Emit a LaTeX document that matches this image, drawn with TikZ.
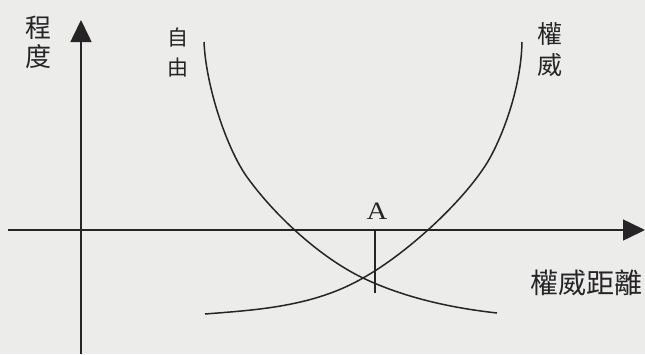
\documentclass[tikz,border=0pt]{standalone}
\usepackage{fontspec}
\usepackage{graphicx}
\newfontfamily\cjk{Noto Sans CJK TC}
\setmainfont{Liberation Serif}
\usetikzlibrary{arrows.meta}
\definecolor{bg}{RGB}{236,236,234}
\definecolor{ink}{RGB}{38,36,38}
\tikzset{
  axis/.style={draw=ink, line width=1.6pt, -{Triangle[length=22pt,width=21pt]}},
  curve/.style={draw=ink, line width=1.5pt},
  lbl/.style={inner sep=0pt, align=center, text=ink}
}
\begin{document}
\begin{tikzpicture}[x=1pt,y=-1pt]
\fill[bg] (0,0) rectangle (645,354);
\useasboundingbox (0,0) rectangle (645,354);
% axes
\coordinate (ybot) at (81,354);
\coordinate (ytop) at (81,20);
\coordinate (xleft) at (8,230);
\coordinate (xright) at (645,230);
\draw[axis] (ybot) -- (ytop);
\draw[axis] (xleft) -- (xright);
% curves
\draw[curve] (204,42) .. controls (206,87) and (227,149) .. (247,177)
  .. controls (275,216) and (321,258) .. (363,278)
  .. controls (405,298) and (452,308) .. (497,313);
\draw[curve] (522,42) .. controls (521,90) and (501,140) .. (487,163)
  .. controls (462,203) and (406,254) .. (363,278)
  .. controls (313,307) and (255,310) .. (205,314);
% marker A
\coordinate (abase) at (375,230);
\coordinate (aend) at (375,293);
\draw[draw=ink, line width=1.4pt] (abase) -- (aend);
% labels
\node[lbl, font=\cjk\fontsize{26}{29}\selectfont] (degree) at (38,42) {程\\度};
\node[lbl, font=\cjk\fontsize{21}{30}\selectfont] (freedom) at (178,52) {自\\由};
\node[lbl, font=\cjk\fontsize{25}{31}\selectfont] (authority) at (550,50) {權\\威};
\node[lbl, font=\cjk\fontsize{28}{30}\selectfont] (pdi) at (586,283) {權威距離};
\node[lbl, font=\fontsize{25}{26}\selectfont] (A) at (377,211) {\scalebox{1.15}[1]{A}};
\end{tikzpicture}
\end{document}
